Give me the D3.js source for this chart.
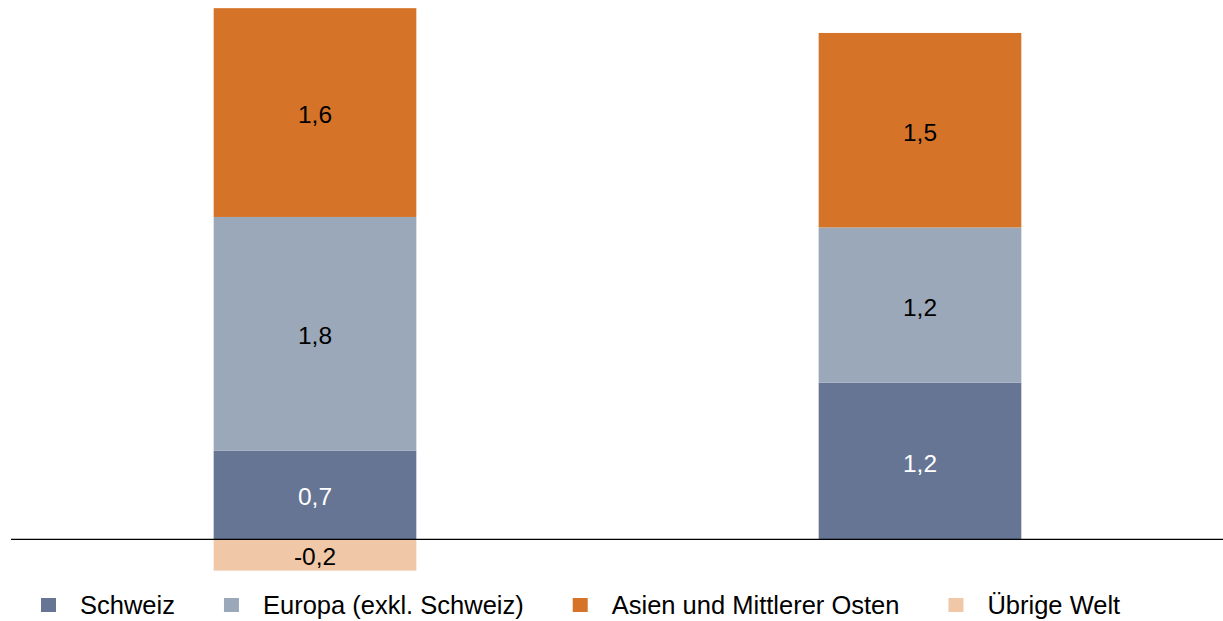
<!DOCTYPE html>
<html>
<head>
<meta charset="utf-8">
<script src="https://cdn.jsdelivr.net/npm/d3@7"></script>
<style>
  html, body { margin: 0; padding: 0; background: #fff; }
  svg { display: block; font-family: "Liberation Sans", Arial, Helvetica, sans-serif; }
</style>
</head>
<body>
<svg id="chart" width="1223" height="621"></svg>
<script>
// ---- data ----
const categories = ["Balken 1", "Balken 2"];
const seriesNames = ["Schweiz", "Europa (exkl. Schweiz)", "Asien und Mittlerer Osten", "Übrige Welt"];
const schweiz = [0.68, 1.20];
const europa = [1.79, 1.19];
const asien = [1.60, 1.49];
const uebrige = [-0.24, 0.0];
const seriesColors = ["#667594", "#9ba8ba", "#d57428", "#f0c8a8"];
const labelColors = ["#ffffff", "#000000", "#000000", "#000000"];

const seriesValues = [schweiz, europa, asien, uebrige];

const svg = d3.select("#chart");
const W = 1223, H = 621;

const x = d3.scaleBand().domain(categories).range([11, 1224]).paddingInner(0.665).paddingOuter(0.335);
const y = d3.scaleLinear().domain([0, 4]).range([539.3, 539.3 - 4 * 130.5]);

const fmt = v => d3.format(".1f")(v).replace(".", ",").replace("−", "-");

// stacking with positive and negative separation
const segs = [];
categories.forEach((c, i) => {
  let pos = 0, neg = 0;
  seriesValues.forEach((arr, s) => {
    const v = arr[i];
    if (v === 0) return;
    let y0, y1;
    if (v > 0) { y0 = pos; y1 = pos + v; pos = y1; }
    else { y0 = neg + v; y1 = neg; neg = y0; }
    segs.push({ c, s, v, y0, y1 });
  });
});

const g = svg.append("g");
g.selectAll("rect.bar").data(segs).join("rect")
  .attr("class", "bar")
  .attr("x", d => x(d.c))
  .attr("width", x.bandwidth())
  .attr("y", d => y(d.y1))
  .attr("height", d => y(d.y0) - y(d.y1))
  .attr("fill", d => seriesColors[d.s]);

g.selectAll("text.lbl").data(segs).join("text")
  .attr("class", "lbl")
  .attr("x", d => x(d.c) + x.bandwidth() / 2)
  .attr("y", d => (y(d.y0) + y(d.y1)) / 2 + 2)
  .attr("text-anchor", "middle")
  .attr("dominant-baseline", "central")
  .attr("font-size", 24.5)
  .attr("fill", d => labelColors[d.s])
  .text(d => fmt(d.v));

// zero axis line
svg.append("line")
  .attr("x1", 11).attr("x2", W)
  .attr("y1", y(0)).attr("y2", y(0))
  .attr("stroke", "#000").attr("stroke-width", 1.3);

// legend
const leg = svg.append("g").attr("class", "legend");
let lx = 41;
seriesNames.forEach((name, i) => {
  leg.append("rect")
    .attr("x", lx).attr("y", 598)
    .attr("width", 15).attr("height", 14)
    .attr("fill", seriesColors[i]);
  const t = leg.append("text")
    .attr("x", lx + 39).attr("y", 605)
    .attr("dominant-baseline", "central")
    .attr("font-size", 25.5)
    .attr("fill", "#000")
    .text(name);
  lx = lx + 39 + t.node().getComputedTextLength() + 49;
});
</script>
</body>
</html>
